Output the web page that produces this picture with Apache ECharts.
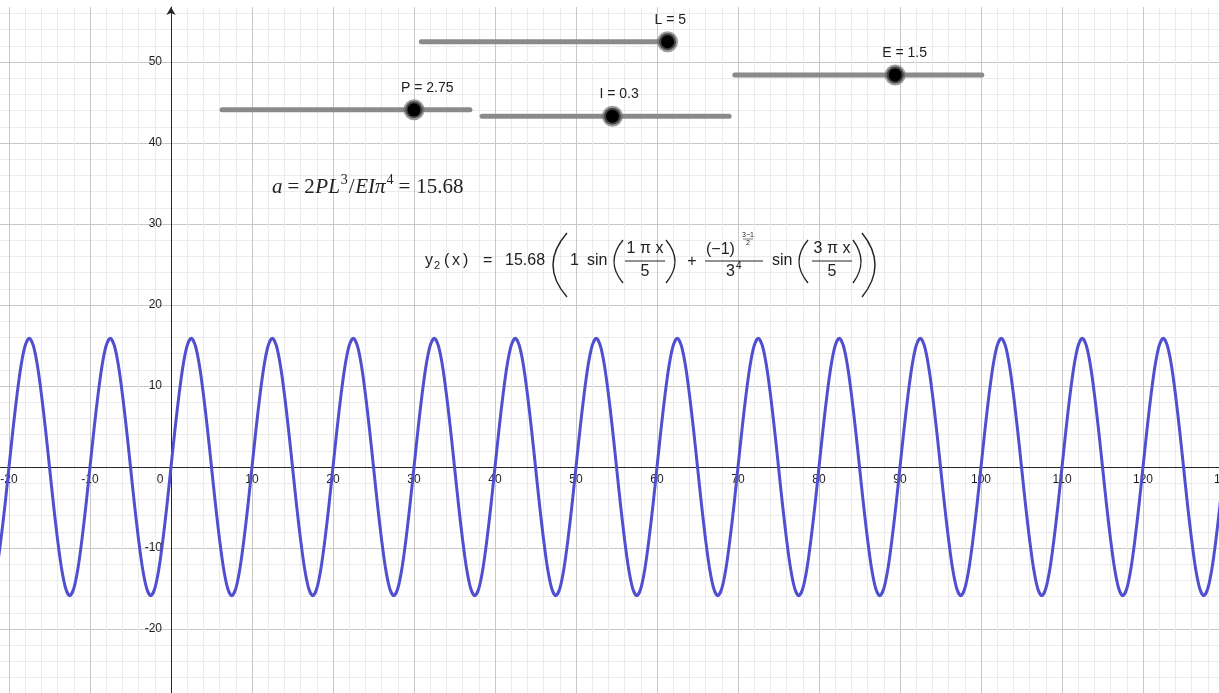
<!DOCTYPE html>
<html>
<head>
<meta charset="utf-8">
<style>
  html, body { margin: 0; padding: 0; background: #fff; }
  #chart { width: 1219px; height: 693px; }
</style>
<script src="https://cdn.jsdelivr.net/npm/echarts@6/dist/echarts.min.js"></script>
</head>
<body>
<div id="chart"></div>
<script>
// y2(x), x from -21.5 in steps of 0.5
const curveStartX = -21.5
const curveStepX = 0.5
const curveY = [
  -12.6, -9.0, -4.7,
  0, 4.7, 9.0, 12.6, 15.0, 15.9, 15.0, 12.6, 9.0, 4.7, 0, -4.7, -9.0, -12.6, -15.0, -15.9, -15.0, -12.6, -9.0, -4.7,
  0, 4.7, 9.0, 12.6, 15.0, 15.9, 15.0, 12.6, 9.0, 4.7, 0, -4.7, -9.0, -12.6, -15.0, -15.9, -15.0, -12.6, -9.0, -4.7,
  0, 4.7, 9.0, 12.6, 15.0, 15.9, 15.0, 12.6, 9.0, 4.7, 0, -4.7, -9.0, -12.6, -15.0, -15.9, -15.0, -12.6, -9.0, -4.7,
  0, 4.7, 9.0, 12.6, 15.0, 15.9, 15.0, 12.6, 9.0, 4.7, 0, -4.7, -9.0, -12.6, -15.0, -15.9, -15.0, -12.6, -9.0, -4.7,
  0, 4.7, 9.0, 12.6, 15.0, 15.9, 15.0, 12.6, 9.0, 4.7, 0, -4.7, -9.0, -12.6, -15.0, -15.9, -15.0, -12.6, -9.0, -4.7,
  0, 4.7, 9.0, 12.6, 15.0, 15.9, 15.0, 12.6, 9.0, 4.7, 0, -4.7, -9.0, -12.6, -15.0, -15.9, -15.0, -12.6, -9.0, -4.7,
  0, 4.7, 9.0, 12.6, 15.0, 15.9, 15.0, 12.6, 9.0, 4.7, 0, -4.7, -9.0, -12.6, -15.0, -15.9, -15.0, -12.6, -9.0, -4.7,
  0, 4.7, 9.0, 12.6, 15.0, 15.9, 15.0, 12.6, 9.0, 4.7, 0, -4.7, -9.0, -12.6, -15.0, -15.9, -15.0, -12.6, -9.0, -4.7,
  0, 4.7, 9.0, 12.6, 15.0, 15.9, 15.0, 12.6, 9.0, 4.7, 0, -4.7, -9.0, -12.6, -15.0, -15.9, -15.0, -12.6, -9.0, -4.7,
  0, 4.7, 9.0, 12.6, 15.0, 15.9, 15.0, 12.6, 9.0, 4.7, 0, -4.7, -9.0, -12.6, -15.0, -15.9, -15.0, -12.6, -9.0, -4.7,
  0, 4.7, 9.0, 12.6, 15.0, 15.9, 15.0, 12.6, 9.0, 4.7, 0, -4.7, -9.0, -12.6, -15.0, -15.9, -15.0, -12.6, -9.0, -4.7,
  0, 4.7, 9.0, 12.6, 15.0, 15.9, 15.0, 12.6, 9.0, 4.7, 0, -4.7, -9.0, -12.6, -15.0, -15.9, -15.0, -12.6, -9.0, -4.7,
  0, 4.7, 9.0, 12.6, 15.0, 15.9, 15.0, 12.6, 9.0, 4.7, 0, -4.7, -9.0, -12.6, -15.0, -15.9, -15.0, -12.6, -9.0, -4.7,
  0, 4.7, 9.0, 12.6, 15.0, 15.9, 15.0, 12.6, 9.0, 4.7, 0, -4.7, -9.0, -12.6, -15.0, -15.9, -15.0, -12.6, -9.0, -4.7,
  0, 4.7, 9.0, 12.6, 15.0, 15.9, 15.0, 12.6, 9.0, 4.7, 0, -4.7, -9.0, -12.6, -15.0, -15.9, -15.0, -12.6, -9.0, -4.7,
  0
]

// tick labels along the two axes
const xTickValues = [-20, -10, 0, 10, 20, 30, 40, 50, 60, 70, 80, 90, 100, 110, 120, 130]
const yTickValues = [-20, -10, 10, 20, 30, 40, 50]

// sliders (in graph units)
const sliderLabels = ['L = 5', 'P = 2.75', 'I = 0.3', 'E = 1.5']
const sliderFrom = [30.9, 6.3, 38.4, 69.6]
const sliderTo = [61.3, 36.9, 68.9, 100.1]
const sliderY = [52.5, 44.1, 43.3, 48.4]
const sliderKnob = [61.3, 30.0, 54.5, 89.4]

const xMin = -30, xMax = 129.38
const yMin = -30, yMax = 56.79
const tickStep = 10

const sans = "'Liberation Sans', Arial, sans-serif"
const serif = "'Liberation Serif', 'Times New Roman', serif"
const ink = '#222'
const axisInk = '#1e1e1e'

const curveData = curveY.map((y, i) => [curveStartX + i * curveStepX, y])

const trackSeries = sliderLabels.map((name, i) => ({
  type: 'line',
  name: name,
  data: [[sliderFrom[i], sliderY[i]], [sliderTo[i], sliderY[i]]],
  showSymbol: false,
  lineStyle: { color: '#8a8a8a', width: 5, cap: 'round' },
  z: 5,
  silent: true
}))

// text helpers for the two formulas
const measureCtx = document.createElement('canvas').getContext('2d')
function textWidth(text, font) {
  measureCtx.font = font
  return measureCtx.measureText(text).width
}
function txt(x, y, text, font, align, vAlign, fill) {
  return {
    type: 'text', x: x, y: y, z: 20,
    style: { text: text, font: font, fill: fill || ink, align: align || 'left', verticalAlign: vAlign || 'middle',
      textAlign: align || 'left', textVerticalAlign: vAlign || 'middle' }
  }
}
function bar(x1, x2, y, w) {
  return { type: 'line', z: 20, shape: { x1: x1, y1: y, x2: x2, y2: y }, style: { stroke: ink, lineWidth: w || 1 } }
}
function paren(xEnd, xCtrl, y1, y2, w) {
  return {
    type: 'bezierCurve', z: 20,
    shape: { x1: xEnd, y1: y1, x2: xEnd, y2: y2, cpx1: xCtrl, cpy1: (y1 + y2) / 2 },
    style: { stroke: ink, lineWidth: w || 1.3, fill: null }
  }
}
// lays tokens [text, font, dy, gapBefore] one after another
function row(x, y, tokens) {
  const out = []
  tokens.forEach(t => {
    x += t[3] || 0
    out.push(txt(x, y + (t[2] || 0), t[0], t[1]))
    x += textWidth(t[0], t[1])
  })
  return out
}

const it = 'italic 21px ' + serif, rm = '21px ' + serif, sup = '14px ' + serif
const formula1 = row(272, 187, [
  ['a', it],
  ['=', rm, 0, 5],
  ['2', rm, 0, 5],
  ['PL', it, 0, 0.5],
  ['3', sup, -7, 1],
  ['/', rm, 0, 1],
  ['EI', it, 0, 0.5],
  ['π', it],
  ['4', sup, -7, 1],
  ['=', rm, 0, 5],
  ['15.68', rm, 0, 6]
])

const f16 = '16px ' + sans
const formula2 = [
  txt(425, 261, 'y', f16),
  txt(434, 266, '2', '11px ' + sans),
  txt(444, 261, '(', f16),
  txt(452, 261, 'x', f16),
  txt(463, 261, ')', f16),
  txt(483, 261, '=', f16),
  txt(505, 261, '15.68', f16),
  paren(567, 539, 233, 297, 1.4),
  txt(570, 261, '1', f16),
  txt(587, 261, 'sin', f16),
  paren(623, 605, 240, 283),
  txt(645, 249, '1 π x', f16, 'center'),
  bar(625, 665, 261),
  txt(645, 272, '5', f16, 'center'),
  paren(666, 684, 240, 283),
  txt(692, 262, '+', f16, 'center'),
  txt(706, 250, '(−1)', f16),
  txt(748, 235, '3−1', '7px ' + sans, 'center'),
  bar(743, 753, 239, 0.6),
  txt(748, 243, '2', '7px ' + sans, 'center'),
  bar(705, 763, 261),
  txt(726, 272, '3', f16),
  txt(736, 266, '4', '10px ' + sans),
  txt(772, 261, 'sin', f16),
  paren(808, 790, 240, 283),
  txt(832, 249, '3 π x', f16, 'center'),
  bar(812, 852, 261),
  txt(832, 272, '5', f16, 'center'),
  paren(853, 869, 240, 283),
  paren(862, 888, 233, 297, 1.4)
]

const gridLines = {
  splitLine: { show: true, showMaxLine: false, lineStyle: { color: '#c8c8c8', width: 1 } },
  minorSplitLine: { show: true, lineStyle: { color: '#ebebeb', width: 1 } },
  minorTick: { show: false, splitNumber: 5 },
  axisTick: { show: false },
  axisLabel: { show: false }
}

const tickFont = '12px ' + sans

const chart = echarts.init(document.getElementById('chart'))
chart.setOption({
  animation: false,
  backgroundColor: '#fff',
  grid: { left: -72, right: 0, top: 7, bottom: -17, outerBoundsMode: 'none', containLabel: false },
  xAxis: Object.assign({
    type: 'value', min: xMin, max: xMax, interval: tickStep,
    axisLine: { onZero: true, lineStyle: { color: '#262626', width: 1 } }
  }, gridLines),
  yAxis: Object.assign({
    type: 'value', min: yMin, max: yMax, interval: tickStep,
    axisLine: { onZero: true, symbol: ['none', 'arrow'], symbolSize: [7, 8], lineStyle: { color: '#262626', width: 1 } }
  }, gridLines),
  series: [
    {
      type: 'line',
      name: 'y2',
      data: curveData,
      showSymbol: false,
      smooth: 0.3,
      clip: true,
      lineStyle: { color: '#4f4fd0', width: 3 },
      z: 4,
      silent: true
    },
    ...trackSeries,
    {
      type: 'scatter',
      name: 'knobs',
      data: sliderLabels.map((name, i) => ({ name: name, value: [sliderKnob[i], sliderY[i]] })),
      symbolSize: 17,
      itemStyle: { color: '#000', borderColor: 'rgba(105,105,105,0.65)', borderWidth: 4, opacity: 1 },
      label: {
        show: true, formatter: '{b}', position: [-2.5, -11.5], align: 'left', verticalAlign: 'middle',
        fontSize: 14, fontFamily: sans, color: ink
      },
      z: 6,
      silent: true
    },
    {
      // x tick labels under the x axis line
      type: 'custom',
      name: 'xTicks',
      data: xTickValues.map(v => [v]),
      renderItem: (params, api) => {
        const v = api.value(0)
        const p = api.coord([v, 0])
        return txt(p[0] + (v === 0 ? -11 : 0), p[1] + 7, String(v), tickFont, 'center', 'top', axisInk)
      },
      clip: false,
      z: 3,
      silent: true
    },
    {
      // y tick labels left of the y axis line
      type: 'custom',
      name: 'yTicks',
      data: yTickValues.map(v => [v]),
      renderItem: (params, api) => {
        const v = api.value(0)
        const p = api.coord([0, v])
        return txt(p[0] - 9, p[1], String(v), tickFont, 'right', 'middle', axisInk)
      },
      clip: false,
      z: 3,
      silent: true
    }
  ],
  graphic: formula1.concat(formula2)
})
</script>
</body>
</html>
